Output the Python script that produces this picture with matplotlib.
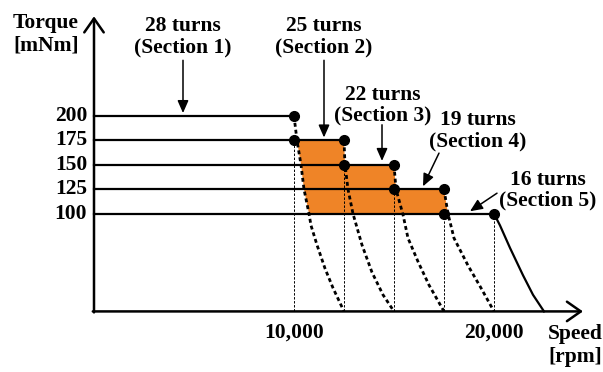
import matplotlib.pyplot as plt

plt.rcParams['font.family'] = ['Liberation Serif', 'DejaVu Serif']
plt.rcParams['font.weight'] = 'bold'

torque_ticks = [100, 125, 150, 175, 200]
speed_ticks = [10000, 20000]
speed_labels = ['10,000', '20,000']

# rated torque and corner speed of each winding section
section_torque = [200, 175, 150, 125, 100]
section_speed = [10000, 12500, 15000, 17500, 20000]
section_turns = [28, 25, 22, 19, 16]

# torque fall-off above each corner speed
fall_speed = [
    [10000, 10150, 10350, 10500, 10750, 10850, 11150, 11550, 11950, 12500],
    [12500, 12550, 12700, 12950, 13400, 13900, 14450, 15000],
    [15000, 15100, 15450, 15700, 16200, 16750, 17500],
    [17500, 17700, 18000, 18700, 19350, 20000],
    [20000, 20300, 20800, 21450, 21950, 22500],
]
fall_torque = [
    [200, 175, 150, 125, 100, 88, 68, 44, 24, 0],
    [175, 150, 125, 100, 68, 40, 17, 0],
    [150, 125, 99, 75, 51, 27, 0],
    [125, 100, 75, 47, 24, 0],
    [100, 88, 65, 37, 17, 0],
]

# label centres and arrow (start, tip) for each section
label_xy = [(4450, 281), (11500, 281), (14450, 211), (19200, 185), (22700, 124)]
arrow_from = [(4450, 257), (11500, 257), (14400, 191), (17250, 162), (20150, 121)]
arrow_to = [(4450, 203), (11500, 178), (14400, 154), (16450, 128), (18800, 102.5)]

fig = plt.figure(figsize=(6.03, 3.72), dpi=100)
ax = fig.add_axes([0, 0, 1, 1])
ax.set_xlim(-4700, 25450)
ax.set_ylim(-62, 318.7)
ax.axis('off')

# axes with open arrow heads
ax.annotate('', xy=(0, 302), xytext=(0, -1),
            arrowprops=dict(arrowstyle='->,head_length=0.5,head_width=0.35',
                            lw=1.8, color='k', mutation_scale=20, shrinkA=0, shrinkB=0))
ax.annotate('', xy=(24450, 0), xytext=(-60, 0),
            arrowprops=dict(arrowstyle='->,head_length=0.5,head_width=0.35',
                            lw=1.8, color='k', mutation_scale=20, shrinkA=0, shrinkB=0))

# shaded overlap region
c1s, c1t = fall_speed[0], fall_torque[0]
poly_x = [c1s[1], c1s[2], c1s[3], c1s[4],
          fall_speed[3][1], fall_speed[3][0],
          fall_speed[2][1], fall_speed[2][0],
          fall_speed[1][1], fall_speed[1][0]]
poly_y = [c1t[1], c1t[2], c1t[3], c1t[4],
          fall_torque[3][1], fall_torque[3][0],
          fall_torque[2][1], fall_torque[2][0],
          fall_torque[1][1], fall_torque[1][0]]
ax.fill(poly_x, poly_y, color='#EF8427', lw=0, zorder=1)

n = len(section_speed)
for i in range(n):
    # constant torque region
    ax.plot([0, section_speed[i]], [section_torque[i], section_torque[i]],
            color='k', lw=1.6, zorder=3)
    # thin guide down to the speed axis
    top = section_torque[i + 1] if i < n - 1 else section_torque[i]
    ax.plot([section_speed[i], section_speed[i]], [0, top], color='k', lw=0.7,
            dashes=(2.5, 1.6), zorder=2)
    # fall-off curve
    if i < n - 1:
        ax.plot(fall_speed[i], fall_torque[i], color='k', lw=2.0,
                dashes=(1.4, 1.1), zorder=3)
    else:
        ax.plot(fall_speed[i], fall_torque[i], color='k', lw=1.6, zorder=3)
    # corner dots
    ax.plot(section_speed[i], section_torque[i], 'o', color='k', ms=7, zorder=4)
    if i < n - 1:
        ax.plot(section_speed[i], section_torque[i + 1], 'o', color='k', ms=7, zorder=4)

    ax.text(label_xy[i][0], label_xy[i][1],
            '%d turns\n(Section %d)' % (section_turns[i], i + 1),
            ha='center', va='center', fontsize=15.5, linespacing=1.05)
    ax.annotate('', xy=arrow_to[i], xytext=arrow_from[i],
                arrowprops=dict(arrowstyle='-|>,head_length=0.5,head_width=0.22',
                                lw=1.1, color='k', mutation_scale=15,
                                shrinkA=0, shrinkB=0), zorder=5)

# tick labels
for t in torque_ticks:
    ax.text(-350, t, str(t), ha='right', va='center', fontsize=15.5)
for s, lab in zip(speed_ticks, speed_labels):
    ax.text(s, -22, lab, ha='center', va='center', fontsize=15.5)

ax.text(-2400, 284, 'Torque\n[mNm]', ha='center', va='center', fontsize=15.5,
        linespacing=1.15)
ax.text(24050, -35, 'Speed\n[rpm]', ha='center', va='center', fontsize=15.5,
        linespacing=1.15)

fig.savefig('out.png', dpi=100)
